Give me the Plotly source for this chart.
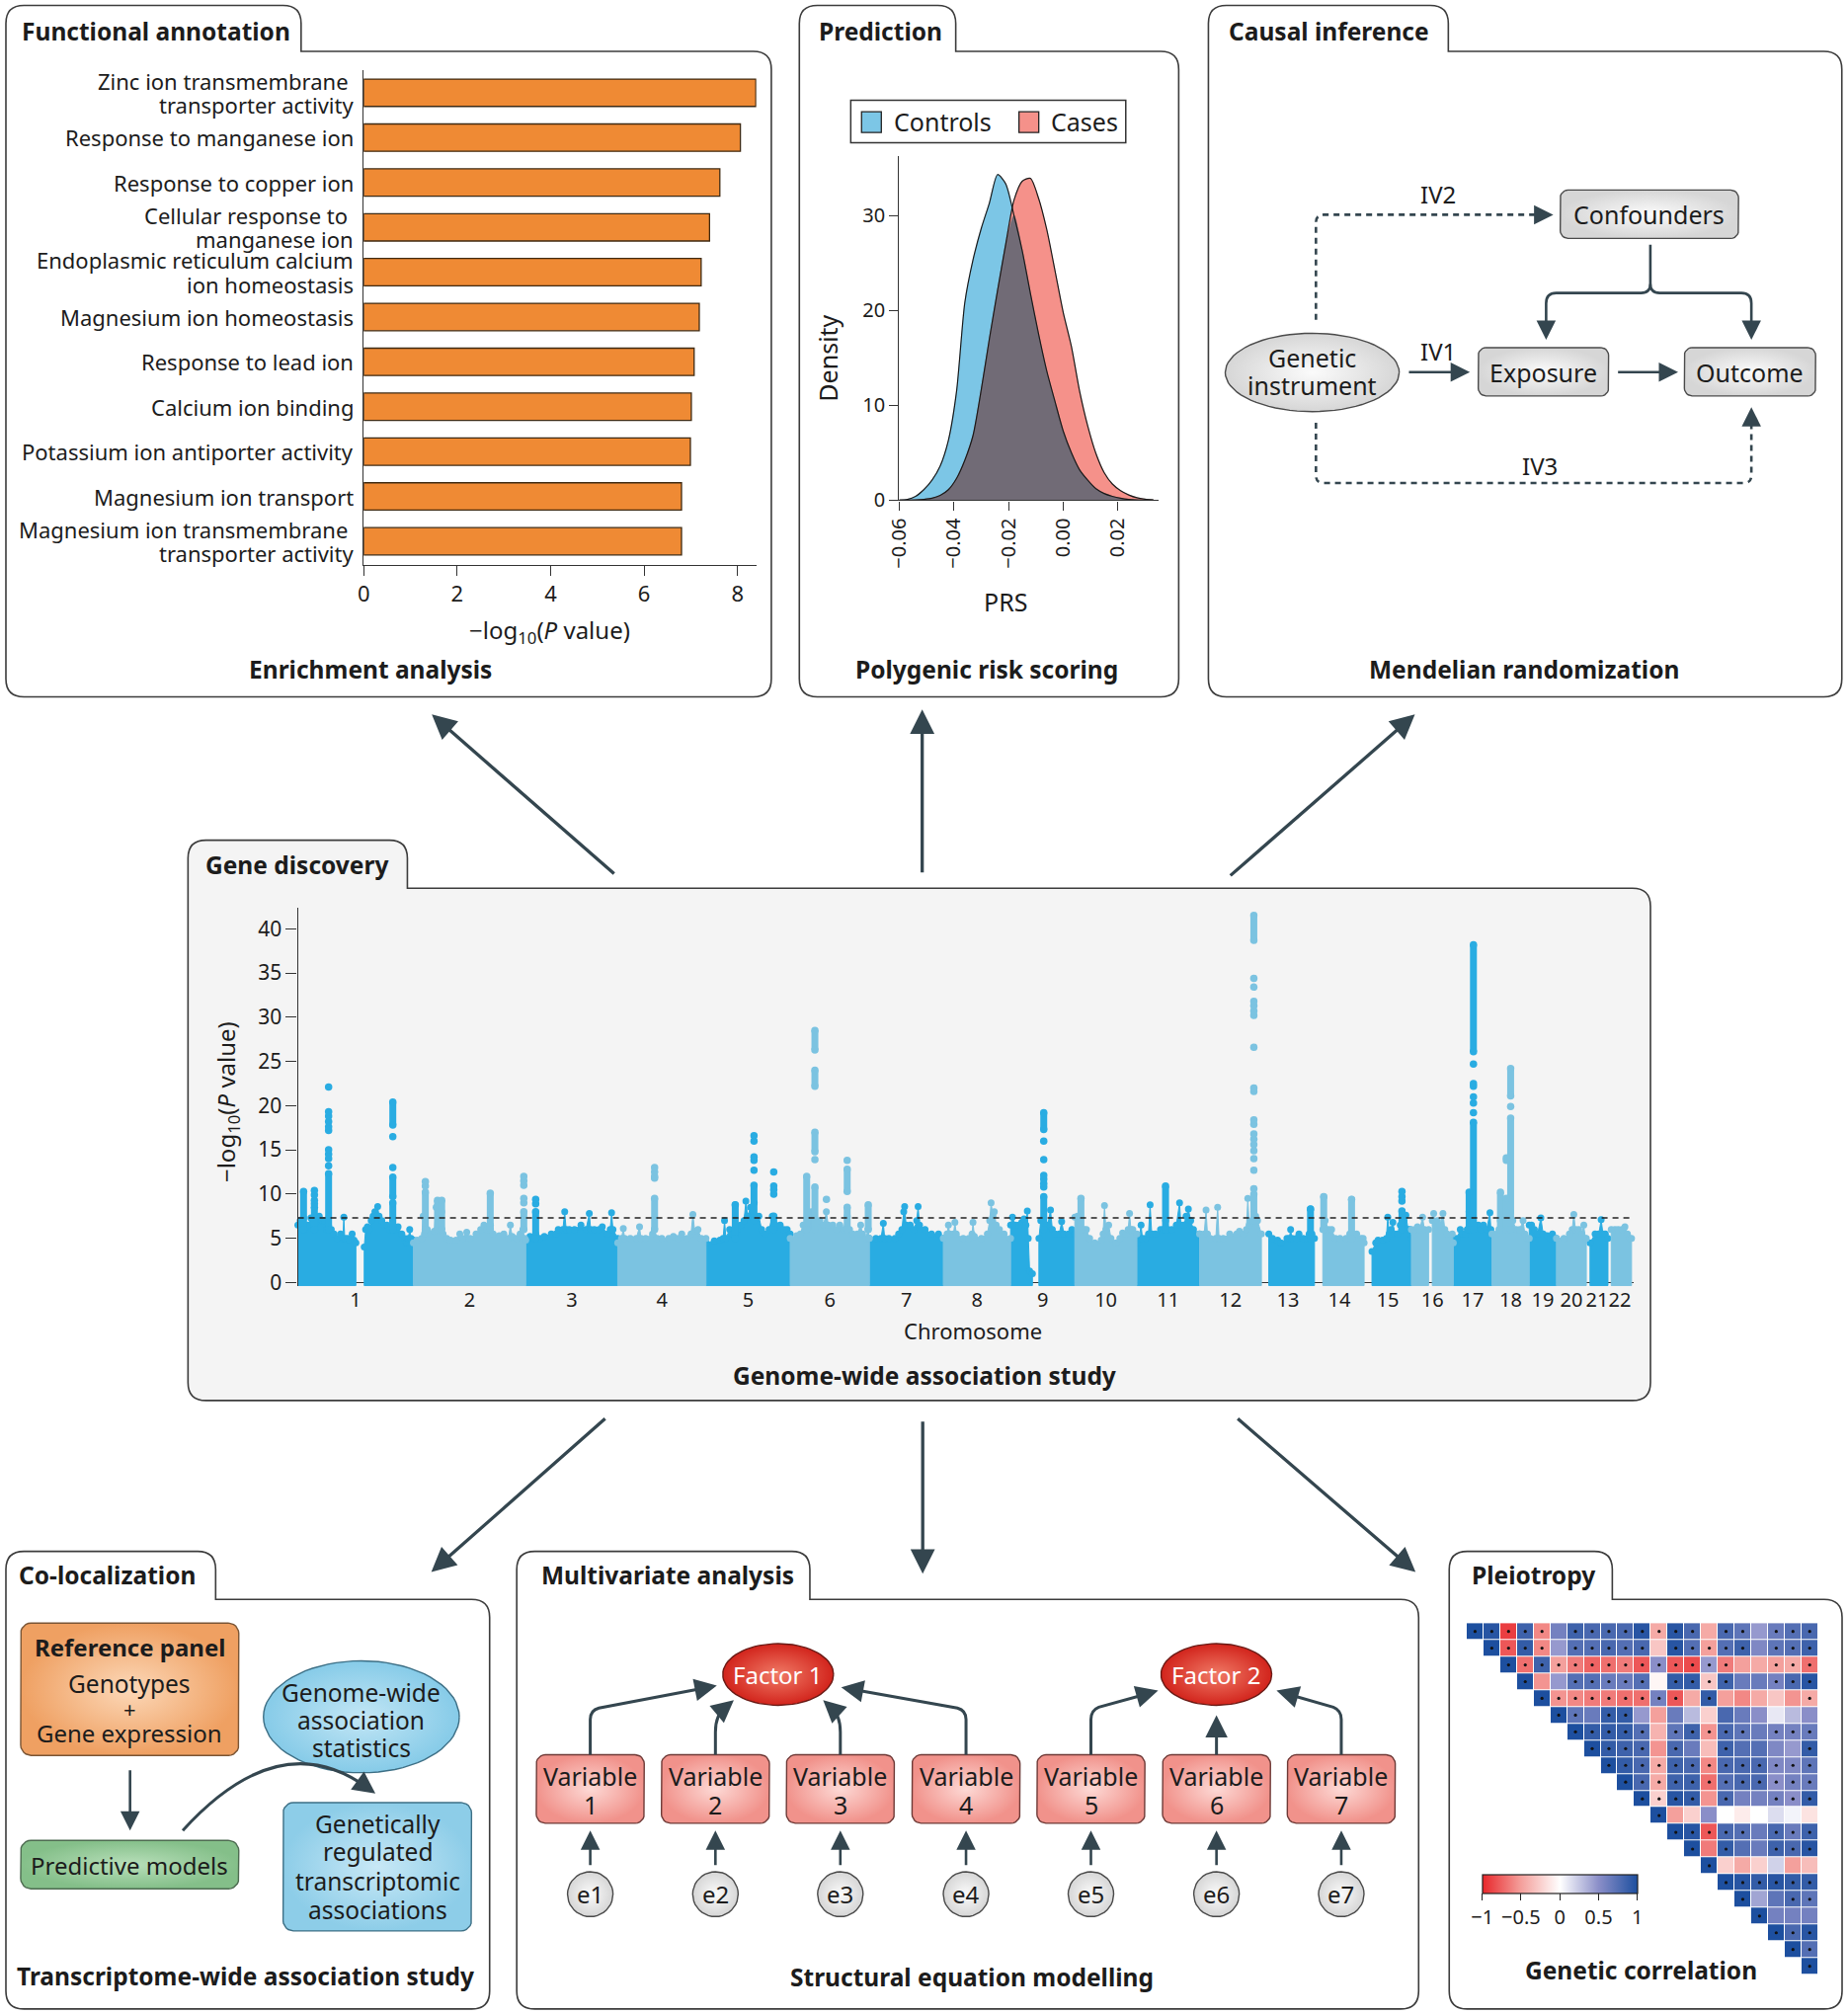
import numpy as np
import plotly.graph_objects as go

FONT = "Noto Sans, Open Sans, DejaVu Sans, Arial, sans-serif"
TXT = "#1c1c1c"
INK = "#34464f"

# ------------------------------------------------------------------ data
bar_labels = [
    "Zinc ion transmembrane\u00a0<br>transporter activity",
    "Response to manganese ion",
    "Response to copper ion",
    "Cellular response to\u00a0<br>manganese ion",
    "Endoplasmic reticulum calcium<br>ion homeostasis",
    "Magnesium ion homeostasis",
    "Response to lead ion",
    "Calcium ion binding",
    "Potassium ion antiporter activity",
    "Magnesium ion transport",
    "Magnesium ion transmembrane\u00a0<br>transporter activity",
]
bar_values = [8.39, 8.06, 7.62, 7.40, 7.22, 7.18, 7.07, 7.01, 6.99, 6.80, 6.80]
bar_ticks = [0, 2, 4, 6, 8]

prs_groups = ["Controls", "Cases"]
prs_x = [-0.060, -0.057, -0.054, -0.051, -0.048, -0.045, -0.042, -0.039, -0.036, -0.033,
         -0.030, -0.027, -0.024, -0.021, -0.018, -0.015, -0.012, -0.009, -0.006, -0.003,
         0.000, 0.003, 0.006, 0.009, 0.012, 0.015, 0.018, 0.021, 0.024, 0.027, 0.030, 0.033]
prs_controls = [0.0, 0.08, 0.4, 1.1, 2.1, 3.6, 6.3, 11.5, 20.8, 25.3,
                28.6, 31.3, 34.3, 33.3, 30.0, 26.3, 21.8, 17.5, 13.6, 10.4,
                7.3, 5.0, 3.2, 2.1, 1.2, 0.7, 0.4, 0.2, 0.08, 0.03, 0.0, 0.0]
prs_cases = [0.0, 0.0, 0.02, 0.08, 0.2, 0.5, 1.1, 2.3, 4.2, 6.8,
             11.6, 17.0, 22.1, 27.0, 31.6, 33.6, 33.9, 31.8, 28.5, 24.2,
             19.8, 16.2, 11.5, 7.8, 4.9, 2.9, 1.7, 1.0, 0.55, 0.25, 0.1, 0.02]
prs_ticks = [-0.06, -0.04, -0.02, 0.0, 0.02]
prs_ticktext = ["\u22120.06", "\u22120.04", "\u22120.02", "0.00", "0.02"]
density_ticks = [0, 10, 20, 30]

chrom_names = [str(i) for i in range(1, 23)]
chrom_len = [249.0, 242.2, 198.3, 190.2, 181.5, 170.8, 159.3, 145.1, 138.4, 133.8, 135.1,
             133.3, 114.4, 107.0, 102.0, 90.3, 83.3, 80.4, 58.6, 64.4, 46.7, 50.8]
gw_threshold = 7.3
p_ticks = [0, 5, 10, 15, 20, 25, 30, 35, 40]

# background mass of SNPs: (chromosome, positions in Mb, top of the mass)
seg_chrom = [1, 1, 2, 3, 4, 5, 6, 7, 8, 9, 9, 10, 11, 12, 13, 14, 15, 16, 16, 17, 18, 19, 20, 21, 22]
seg_mb = [
    [0, 5, 8, 12, 16, 22, 28, 32, 36, 42, 46, 52, 57, 62, 66, 72, 78, 85, 92, 97, 99, 101, 107, 112, 117, 121, 125],
    [143, 146, 150, 154, 158, 162, 166, 170, 172, 175, 181, 186, 192, 198, 204, 210, 216, 224, 230, 234, 238, 241, 244, 249],
    [0, 8, 18, 21, 24, 30, 38, 45, 49, 53, 57, 61, 64, 72, 80, 92, 100, 106, 115, 122, 135, 145, 152, 158, 166,
     172, 185, 195, 205, 209, 213, 223, 230, 236, 240, 242.2],
    [0, 9, 18, 21.4, 30, 40, 55, 65, 70, 80, 84, 87, 94, 105, 119, 130, 137, 140, 148, 158, 165, 176, 182, 185, 188, 198.3],
    [0, 8, 12, 15, 27, 40, 47, 50, 60, 75, 79, 85, 95, 110, 120, 130, 138, 150, 158, 162, 166, 173, 180, 190.2],
    [0, 18, 30, 37, 40, 43, 51, 58, 63, 67, 75, 82, 86, 90, 96, 100, 104, 108, 114, 120, 128, 136, 143, 150, 160,
     168, 175, 181.5],
    [0, 14, 22, 28, 32, 40, 46, 50, 56, 64, 72, 78, 82, 92, 100, 107, 115, 123, 128, 135, 145, 152, 156, 163, 168, 170.8],
    [0, 14, 25, 30, 33, 42, 55, 63, 70, 74, 76, 79, 88, 96, 102, 105, 108, 120, 134, 149, 159.3],
    [0, 8, 11, 14, 22, 25, 28, 43, 55, 62, 64, 67, 82, 95, 100, 103, 107, 110, 114, 121, 131, 145.1],
    [0, 4, 10, 18, 24, 29, 33, 36, 38, 41, 47],
    [61, 65, 68, 75, 80, 86, 90, 96, 105, 110, 115, 125, 132, 138.4],
    [0, 6, 10, 20, 25, 32, 43, 57, 61, 64, 67, 73, 78, 89, 97, 103, 110, 115, 118, 121, 125, 133.8],
    [0, 5, 9, 12, 19, 25, 28.5, 32, 40, 51, 57, 62, 67, 75, 85, 92, 95, 101, 106, 111, 116, 122, 135.1],
    [0, 10, 14, 17, 23, 35, 39, 42, 51, 65, 80, 86, 95, 101, 104, 107, 112, 117, 121, 125, 133.3],
    [16, 24, 35, 42, 55, 60, 63, 66, 75, 81, 90, 99, 103, 106, 109, 114.4],
    [18, 20, 23, 30, 37, 45, 55, 68, 76, 80, 84, 91, 100, 105, 107],
    [17, 25, 30, 40, 48, 51, 54, 58, 62, 66, 72, 78, 82, 86, 90, 95, 99, 102],
    [0, 8, 13, 18, 24, 28, 37],
    [45, 48, 52, 56, 62, 68, 72, 77, 88, 90.3],
    [0, 8, 15, 20, 26, 30, 34, 38, 43, 48, 54, 60, 65, 72, 79, 81, 83.3],
    [0, 10, 15, 18, 21, 24, 28, 31, 35, 40, 45, 52, 60, 67, 71, 76, 80.4],
    [0, 5, 11, 18, 25, 30, 39, 45, 50, 58.6],
    [0, 16, 28, 34, 37.5, 41, 48, 55, 59, 62, 64.4],
    [8, 19, 27, 32, 36, 41, 46.7],
    [7, 15, 22, 30, 36.5, 42, 47, 50.8],
]
seg_h = [
    [6.5, 7.0, 6.5, 7.3, 6.0, 6.5, 7.3, 6.8, 7.5, 7.0, 7.5, 7.0, 7.0, 6.0, 6.5, 6.0, 5.5, 5.0, 5.5, 5.0, 7.4,
     5.0, 5.0, 4.8, 5.5, 4.8, 4.5],
    [4.0, 6.0, 6.3, 6.0, 7.0, 7.5, 8.0, 7.5, 8.6, 7.5, 7.0, 6.5, 6.5, 6.0, 7.0, 6.0, 6.3, 5.5, 5.0, 4.5, 5.0,
     6.0, 5.0, 4.8],
    [4.5, 4.8, 5.0, 7.5, 5.5, 6.0, 5.5, 5.8, 8.5, 6.0, 6.2, 8.0, 5.5, 5.0, 4.8, 4.8, 5.5, 5.0, 5.7, 5.0, 5.5,
     6.0, 6.5, 6.0, 6.5, 5.5, 5.3, 5.5, 5.0, 6.5, 5.2, 5.0, 5.5, 6.0, 5.0, 4.8],
    [4.5, 5.2, 5.0, 5.5, 5.0, 5.2, 5.5, 5.5, 6.0, 6.0, 8.0, 6.0, 6.0, 6.0, 6.5, 6.0, 7.8, 6.0, 6.0, 6.0, 6.3,
     5.5, 6.0, 7.9, 6.0, 5.0],
    [4.5, 5.0, 6.1, 5.0, 5.0, 5.0, 6.3, 5.0, 5.0, 5.5, 6.0, 5.0, 5.0, 5.0, 5.2, 5.0, 5.5, 5.0, 5.5, 7.7, 5.8,
     6.0, 5.0, 5.0],
    [4.5, 4.7, 4.8, 5.0, 7.0, 5.0, 6.0, 5.5, 8.8, 6.0, 6.5, 7.0, 9.2, 7.5, 8.5, 7.5, 9.0, 7.5, 7.5, 6.0, 5.5,
     6.0, 7.5, 6.5, 6.5, 6.0, 6.0, 5.5],
    [5.0, 5.3, 5.5, 6.5, 6.0, 7.0, 8.0, 7.0, 7.0, 7.0, 6.5, 8.0, 6.5, 6.5, 6.0, 6.5, 6.0, 7.5, 6.0, 5.5, 5.5,
     6.5, 5.5, 5.0, 6.0, 5.0],
    [5.0, 5.0, 5.0, 6.7, 5.0, 5.0, 5.0, 5.5, 6.0, 8.0, 8.6, 6.5, 6.5, 6.0, 7.0, 8.6, 6.5, 6.0, 5.5, 5.5, 5.0],
    [5.0, 5.5, 6.5, 5.5, 5.5, 6.8, 5.5, 5.0, 5.0, 5.5, 6.8, 5.2, 5.0, 5.5, 7.0, 9.0, 7.5, 8.0, 6.5, 6.0, 5.5, 5.0],
    [6.5, 7.4, 6.5, 6.5, 6.8, 7.2, 6.5, 8.1, 5.0, 1.3, 1.0],
    [5.0, 7.0, 7.0, 6.5, 6.5, 8.2, 6.0, 5.5, 5.5, 6.9, 5.5, 5.5, 6.0, 5.5],
    [7.4, 7.5, 6.5, 6.0, 6.0, 5.0, 4.5, 4.8, 5.5, 8.7, 6.0, 6.5, 5.0, 4.5, 5.0, 5.6, 5.5, 6.0, 7.8, 6.0, 6.0, 5.5],
    [4.5, 5.0, 6.5, 5.0, 5.0, 5.5, 8.8, 5.5, 5.5, 6.0, 6.0, 7.0, 6.0, 6.0, 6.5, 9.0, 6.5, 6.5, 7.5, 8.3, 7.0,
     6.0, 5.5],
    [5.5, 5.5, 8.2, 5.5, 5.0, 5.0, 8.5, 5.0, 5.0, 5.5, 5.5, 5.8, 5.5, 6.0, 9.5, 6.5, 7.0, 8.0, 7.5, 7.0, 5.5],
    [5.5, 5.0, 4.8, 4.5, 5.0, 5.0, 6.0, 5.0, 5.0, 5.5, 5.0, 5.0, 5.5, 8.3, 5.5, 5.0],
    [6.0, 9.7, 7.0, 6.0, 6.0, 5.0, 5.0, 5.0, 5.5, 9.4, 5.5, 5.5, 5.0, 5.0, 4.5],
    [3.5, 4.5, 4.8, 4.8, 5.0, 7.4, 5.5, 6.0, 6.8, 5.5, 5.5, 6.5, 8.0, 7.0, 7.6, 6.0, 6.0, 5.0],
    [6.0, 6.0, 6.3, 6.0, 7.4, 6.0, 6.0],
    [7.0, 7.8, 6.5, 7.0, 6.5, 7.8, 6.0, 5.5, 5.5, 4.5],
    [5.0, 5.0, 6.0, 5.5, 5.5, 6.0, 8.0, 7.0, 7.0, 6.5, 6.5, 6.0, 6.5, 6.0, 7.9, 6.0, 5.5],
    [5.5, 5.5, 6.0, 7.0, 7.0, 7.0, 7.5, 8.0, 8.0, 8.0, 7.0, 6.0, 6.0, 7.0, 5.5, 5.0, 5.0],
    [6.5, 6.5, 6.0, 5.5, 7.3, 5.5, 5.3, 5.0, 5.5, 5.0],
    [5.0, 5.0, 5.5, 6.0, 7.7, 6.0, 6.0, 5.5, 6.5, 5.0, 5.0],
    [4.5, 5.5, 5.5, 7.1, 5.5, 5.5, 5.0],
    [6.0, 6.0, 6.0, 6.0, 6.3, 5.5, 5.0, 5.0],
]

# associated loci: chromosome, Mb, dense runs of SNPs [low, high], single SNPs
peak_chrom = [1, 1, 1, 1, 2, 2, 2, 2, 2, 3, 4, 5, 5, 5, 6, 6, 6, 6, 6, 9, 10, 11, 12, 13, 14, 14,
              15, 17, 17, 18, 18, 18]
peak_mb = [12.2, 35.6, 66.2, 204.6, 25.8, 52, 61, 165.7, 238, 21.4, 79.4, 63.1, 103.5, 146.1,
           35.6, 53.3, 78.2, 122.9, 168.3, 71.4, 13.2, 61.8, 117, 105.8, 20, 80, 81.6, 34.1,
           43.4, 18.3, 31, 40.3]
peak_dense = [
    [[6, 10.3]], [[6, 8.5]], [[6, 12.3]], [[6, 9.0], [9.7, 11.9], [17.8, 20.4]],
    [[6, 10.2]], [[6, 9.3]], [[6, 9.3]], [[6, 10.1]], [[6, 8.0]], [[5, 8.0]],
    [[6, 9.5]], [[5, 8.8]], [[7, 11.0]], [[6, 7.5]], [[6, 12.0]],
    [[6, 10.8], [14.8, 17.0], [22.2, 24.0], [26.3, 28.5]], [], [[6, 8.5], [10.3, 12.8]],
    [[6, 8.8]], [[6, 9.7], [17.3, 19.2]], [[6, 9.5]], [[6, 10.9]], [[7, 10.0], [38.7, 41.5]],
    [[5, 8.3]], [[6, 9.7]], [[5, 9.4]], [[6, 8.1]], [[6, 10.2]], [[6, 18.1], [26.1, 38.2]],
    [[6, 10.2]], [[6, 9.5]], [[6, 18.6], [21.1, 24.2]],
]
peak_dots = [
    [], [8.9, 9.3, 9.9, 10.4], [13.2, 14.0, 14.5, 15.0, 17.2, 17.6, 18.2, 18.8, 19.3, 22.1],
    [13.0, 16.5], [10.9, 11.4], [], [], [], [9.0, 9.5, 11.0, 11.5, 12.0], [8.9, 9.4],
    [11.8, 12.0, 12.5, 13.0], [], [12.7, 13.8, 14.2, 16.0, 16.6], [10.0, 10.5, 10.9, 12.5], [],
    [13.9], [9.4], [13.8], [], [10.8, 11.2, 11.7, 12.1, 13.9, 16.0], [], [],
    [10.6, 12.7, 14.0, 14.9, 15.6, 16.2, 16.8, 17.9, 18.4, 21.6, 22.0, 26.6, 30.2, 30.7, 31.3,
     31.8, 33.4, 34.4],
    [], [], [], [9.2, 9.7, 10.3], [], [19.2, 20.3, 21.0, 22.2, 22.5, 24.7], [], [13.8, 14.1], [19.9],
]

# genetic correlation (upper triangle, row i starts on the diagonal)
corr_rows = [
    [1.0, 0.95, -0.9, 0.85, -0.6, 0.6, 0.85, 0.8, 0.8, 0.8, 0.95, -0.45, 0.95, 0.8, -0.45, 0.8, 0.7, 0.45, 0.65, 0.75, 0.8],
    [1.0, -0.8, 0.9, -0.6, 0.45, 0.75, 0.75, 0.8, 0.75, 0.8, -0.3, 0.95, 0.75, -0.5, 0.75, 0.85, 0.55, 0.7, 0.75, 0.85],
    [1.0, -0.7, 0.85, -0.5, -0.65, -0.75, -0.7, -0.65, -0.8, 0.5, -0.8, -0.85, 0.45, -0.65, -0.5, -0.45, -0.5, -0.45, -0.7],
    [1.0, -0.55, 0.45, 0.75, 0.75, 0.65, 0.65, 0.75, -0.05, 0.9, 0.9, -0.3, 0.85, 0.65, 0.65, 0.6, 0.8, 0.95],
    [1.0, -0.55, -0.6, -0.65, -0.65, -0.7, -0.7, 0.6, -0.8, -0.45, 0.9, -0.5, -0.6, -0.45, -0.3, -0.55, -0.45],
    [1.0, 0.7, 0.65, 0.9, 0.9, 0.45, -0.5, 0.65, 0.3, -0.25, 0.8, 0.65, 0.5, 0.1, 0.3, 0.5],
    [1.0, 0.9, 0.9, 0.9, 0.75, -0.4, 0.7, 0.85, -0.55, 0.8, 0.7, 0.65, 0.6, 0.6, 0.65],
    [1.0, 0.9, 0.85, 0.8, -0.55, 0.8, 0.65, -0.35, 0.85, 0.75, 0.75, 0.55, 0.45, 0.9],
    [1.0, 0.9, 0.8, -0.45, 0.85, 0.8, -0.6, 0.8, 0.8, 0.8, 0.55, 0.55, 0.7],
    [1.0, 0.8, -0.45, 0.85, 0.85, -0.7, 0.75, 0.8, 0.8, 0.5, 0.6, 0.65],
    [1.0, -0.25, 0.95, 0.9, -0.55, 0.8, 0.6, 0.6, 0.6, 0.5, 0.9],
    [1.0, -0.5, -0.25, 0.5, 0.0, -0.1, 0.0, 0.15, 0.05, -0.15],
    [1.0, 0.95, -0.8, 0.8, 0.75, 0.65, 0.8, 0.65, 0.85],
    [1.0, -0.65, 0.9, 0.75, 0.65, 0.85, 0.8, 0.95],
    [1.0, -0.25, -0.45, -0.25, 0.2, -0.5, -0.35],
    [1.0, 0.95, 0.9, 0.95, 0.9, 0.9],
    [1.0, 0.4, 0.7, 0.8, 0.7],
    [1.0, 0.6, 0.6, 0.6],
    [1.0, 0.8, 0.95],
    [1.0, 0.75],
    [1.0],
]
sig_rows = [
    [1, 1, 1, 1, 1, 0, 1, 1, 1, 1, 1, 1, 1, 1, 0, 1, 1, 0, 1, 1, 1],
    [1, 1, 1, 1, 0, 1, 1, 1, 1, 1, 0, 1, 1, 1, 1, 1, 0, 1, 1, 1],
    [1, 1, 1, 1, 1, 1, 1, 1, 1, 1, 1, 1, 1, 1, 0, 0, 1, 1, 1],
    [1, 0, 0, 1, 1, 1, 1, 1, 0, 1, 1, 1, 1, 0, 0, 1, 1, 1],
    [1, 1, 1, 1, 1, 1, 1, 1, 1, 0, 1, 0, 0, 0, 0, 0, 1],
    [1, 1, 0, 1, 1, 0, 0, 0, 0, 0, 0, 0, 0, 0, 0, 0],
    [1, 1, 1, 1, 1, 0, 1, 1, 1, 1, 1, 0, 1, 1, 1],
    [1, 1, 1, 1, 0, 1, 0, 0, 1, 0, 0, 0, 0, 1],
    [1, 1, 1, 1, 1, 1, 1, 1, 1, 1, 1, 1, 1],
    [1, 1, 1, 1, 1, 1, 1, 1, 1, 1, 1, 1],
    [1, 1, 1, 1, 0, 1, 0, 0, 1, 1, 1],
    [1, 0, 0, 0, 0, 0, 0, 0, 0, 0],
    [1, 1, 1, 1, 1, 0, 1, 1, 1],
    [1, 0, 1, 0, 0, 1, 1, 1],
    [1, 0, 0, 0, 0, 0, 0],
    [1, 1, 1, 1, 1, 1],
    [1, 0, 0, 1, 1],
    [1, 0, 0, 0],
    [1, 1, 1],
    [1, 1],
    [1],
]
cbar_ticks = [-1, -0.5, 0, 0.5, 1]
cbar_text = ["\u22121", "\u22120.5", "0", "0.5", "1"]

# ------------------------------------------------------------------ geometry helpers
W, H = 1871, 2040
SW, SH = 1438.0, 1568.0          # canvas units
SC = W / SW


def px(v):
    return v / SW


def py(v):
    return 1 - v / SH


traces, shapes, annots = [], [], []


def txt(x, y, s, size=25, bold=False, color=TXT, xanchor="center", yanchor="middle", angle=0):
    annots.append(dict(x=x, y=y, xref="x", yref="y", text=(f"<b>{s}</b>" if bold else s),
                       showarrow=False, xanchor=xanchor, yanchor=yanchor, textangle=angle,
                       font=dict(family=FONT, size=size, color=color)))


def arrow(x0, y0, x1, y1, w=2.6, size=1.5, color=INK):
    annots.append(dict(x=x1, y=y1, ax=x0, ay=y0, xref="x", yref="y", axref="x", ayref="y",
                       text="", showarrow=True, arrowhead=2, arrowsize=size, arrowwidth=w,
                       arrowcolor=color, standoff=0, startstandoff=0))


def line_path(d, w=2.6, color=INK, dash="solid"):
    shapes.append(dict(type="path", path=d, xref="x", yref="y",
                       line=dict(color=color, width=w, dash=dash), layer="above"))


def panel(L, R, T, M, B, tr, fill="white", r=14):
    d = (f"M {L},{T + r} Q {L},{T} {L + r},{T} L {tr - r},{T} Q {tr},{T} {tr},{T + r} L {tr},{M} "
         f"L {R - r},{M} Q {R},{M} {R},{M + r} L {R},{B - r} Q {R},{B} {R - r},{B} "
         f"L {L + r},{B} Q {L},{B} {L},{B - r} Z")
    shapes.append(dict(type="path", path=d, xref="x", yref="y",
                       line=dict(color="#3c3c3c", width=1.6), fillcolor=fill, layer="below"))


def rrect(x0, y0, x1, y1, r=7, n=7):
    xs, ys = [], []
    for cx, cy, a0, a1 in [(x1 - r, y0 + r, -90, 0), (x1 - r, y1 - r, 0, 90),
                           (x0 + r, y1 - r, 90, 180), (x0 + r, y0 + r, 180, 270)]:
        t = np.radians(np.linspace(a0, a1, n))
        xs += list(cx + r * np.cos(t))
        ys += list(cy + r * np.sin(t))
    xs.append(xs[0])
    ys.append(ys[0])
    return xs, ys


def ell(cx, cy, rx, ry, n=73):
    t = np.linspace(0, 2 * np.pi, n)
    return list(cx + rx * np.cos(t)), list(cy + ry * np.sin(t))


def blob(pts, c0, c1, edge, w=1.4):
    xs, ys = pts
    traces.append(go.Scatter(x=xs, y=ys, xaxis="x", yaxis="y", mode="lines", fill="toself",
                             fillgradient=dict(type="radial", colorscale=[[0, c0], [1, c1]]),
                             line=dict(color=edge, width=w), hoverinfo="skip", showlegend=False))


# ------------------------------------------------------------------ panels
panel(4.6, 600.2, 4.2, 40, 542.3, 234.3)
panel(622, 917.2, 4.2, 40, 542.3, 743.7)
panel(940.3, 1433.2, 4.2, 40, 542.3, 1127)
panel(146.3, 1284.3, 653.8, 691.2, 1089.8, 317, fill="#f4f4f4")
panel(4.6, 381, 1207.2, 1244.6, 1563.3, 167.8)
panel(402.1, 1103.9, 1207.2, 1244.6, 1563.3, 630.2)
panel(1127.7, 1433.4, 1207.2, 1244.6, 1563.3, 1254.6)

BT = 24.5
txt(15.5, 24.4, "Functional annotation", size=BT, bold=True, xanchor="left")
txt(635.4, 24.4, "Prediction", size=BT, bold=True, xanchor="left")
txt(954.3, 24.4, "Causal inference", size=BT, bold=True, xanchor="left")
txt(158.2, 672.7, "Gene discovery", size=BT, bold=True, xanchor="left")
txt(13.3, 1225.9, "Co-localization", size=BT, bold=True, xanchor="left")
txt(419.6, 1225.9, "Multivariate analysis", size=BT, bold=True, xanchor="left")
txt(1143.9, 1225.9, "Pleiotropy", size=BT, bold=True, xanchor="left")

txt(288.5, 520.4, "Enrichment analysis", size=BT, bold=True)
txt(767.8, 520.4, "Polygenic risk scoring", size=BT, bold=True)
txt(1186, 520.4, "Mendelian randomization", size=BT, bold=True)
txt(719.7, 1070.6, "Genome-wide association study", size=BT, bold=True)
txt(190.9, 1537.6, "Transcriptome-wide association study", size=BT, bold=True)
txt(756, 1538.4, "Structural equation modelling", size=BT, bold=True)
txt(1277.1, 1533.3, "Genetic correlation", size=BT, bold=True)

# arrows between panels
for a in [(479, 680.9, 336, 556), (717.6, 680, 717.6, 552), (956.3, 682.3, 1101, 556),
          (472, 1103, 335.6, 1223.3), (718, 1105, 718, 1224.6), (962, 1103, 1101.5, 1223.3)]:
    arrow(*a, w=3.3, size=1.5)

# ------------------------------------------------------------------ causal inference
GRAY0, GRAY1, GEDGE = "#fbfbfb", "#d6d6d6", "#4a4a4a"
blob(rrect(1214.1, 147.9, 1352.8, 185.5, r=6), GRAY0, GRAY1, GEDGE)
blob(rrect(1150.3, 270.5, 1251.7, 308.1, r=6), GRAY0, GRAY1, GEDGE)
blob(rrect(1310.7, 270.5, 1412.8, 308.1, r=6), GRAY0, GRAY1, GEDGE)
blob(ell(1021.1, 289.8, 67.7, 30.5), GRAY0, GRAY1, GEDGE)
txt(1283.5, 167, "Confounders")
txt(1201, 289.5, "Exposure")
txt(1361.7, 289.5, "Outcome")
txt(1021, 278.5, "Genetic")
txt(1021, 300, "instrument")
txt(1118.7, 273.5, "IV1", size=24)
txt(1118.7, 151.4, "IV2", size=24)
txt(1198.2, 362.7, "IV3", size=24)
arrow(1095.2, 289.6, 1143.8, 289.6)
arrow(1257.9, 289.6, 1305.8, 289.6)
line_path("M 1284.2,190.4 L 1284.2,221 Q 1284.2,228 1277,228 L 1211,228 Q 1203.1,228 1203.1,236 L 1203.1,252")
line_path("M 1284.2,221 Q 1284.2,228 1291.4,228 L 1355,228 Q 1362.8,228 1362.8,236 L 1362.8,252")
arrow(1203.1, 250, 1203.1, 264.5)
arrow(1362.8, 250, 1362.8, 264.5)
line_path("M 1024,248.9 L 1024,173 Q 1024,167.1 1030,167.1 L 1198,167.1", dash="6px,5px")
arrow(1196, 167.1, 1208.7, 167.1)
line_path("M 1024,329 L 1024,370 Q 1024,375.9 1030,375.9 L 1357,375.9 Q 1362.8,375.9 1362.8,370 L 1362.8,330",
          dash="6px,5px")
arrow(1362.8, 330, 1362.8, 316.8)

# ------------------------------------------------------------------ co-localization
blob(rrect(16.1, 1263, 185.8, 1366, r=8), "#fcd8b8", "#efa062", "#7a5535")
blob(rrect(16.1, 1432.1, 185.8, 1469.8, r=8), "#b8dfba", "#84bf89", "#4d6b50")
blob(ell(281.2, 1336, 76.2, 43.6), "#c3e6f5", "#86cbe8", "#3d6f85")
blob(rrect(220.3, 1402.7, 366.9, 1502.6, r=8), "#c8e8f6", "#8dcde8", "#3d6f85")
txt(101, 1281.5, "Reference panel", size=24, bold=True)
txt(101, 1310.4, "Genotypes", size=24.5)
txt(101, 1329.8, "+", size=22)
txt(101, 1348.9, "Gene expression", size=24)
txt(101, 1451.3, "Predictive models", size=24)
for yy, s in zip([1316.8, 1338.6, 1360.4], ["Genome-wide", "association", "statistics"]):
    txt(281.2, yy, s, size=24.5)
for yy, s in zip([1419.3, 1441.1, 1464.1, 1485.9], ["Genetically", "regulated", "transcriptomic", "associations"]):
    txt(293.6, yy, s, size=24.5)
arrow(101.2, 1376.5, 101.2, 1424.4)
line_path("M 142.2,1424.4 Q 218,1341 286.5,1391.6", w=3)
arrow(284, 1389.8, 292.1, 1395.7, w=3)

# ------------------------------------------------------------------ multivariate analysis
var_x = [459.3, 556.7, 653.9, 751.7, 848.9, 946.6, 1043.7]
for i, cx in enumerate(var_x):
    blob(rrect(cx - 42, 1365.5, cx + 42, 1418.8, r=7), "#fdd9d5", "#f1928b", "#6e3a37")
    blob(ell(cx, 1474, 17.7, 17.5, n=41), GRAY0, GRAY1, GEDGE)
    txt(cx, 1382.2, "Variable", size=25)
    txt(cx, 1404, str(i + 1), size=25)
    txt(cx, 1474, f"e{i + 1}", size=24)
    arrow(cx, 1452.6, cx, 1424.5)
for fx_, name in [(605.5, "Factor 1"), (946.5, "Factor 2")]:
    blob(ell(fx_, 1303, 43.1, 24), "#f07a66", "#d2241c", "#6a1a15")
    txt(fx_, 1303, name, size=24, color="white")
line_path("M 459.3,1365.5 L 459.3,1338 Q 459.3,1331 466,1329.2 L 549,1313.4", w=3)
arrow(548, 1313.6, 557.8, 1311.7, w=3)
line_path("M 556.7,1365.5 L 556.7,1348 Q 556.7,1334 565,1328", w=3)
arrow(565, 1328, 571, 1323, w=3)
line_path("M 653.9,1365.5 L 653.9,1348 Q 653.9,1334 646,1328", w=3)
arrow(646, 1328, 640.5, 1323, w=3)
line_path("M 751.7,1365.5 L 751.7,1338 Q 751.7,1331 745,1329.2 L 663,1314.6", w=3)
arrow(664.4, 1314.8, 654.6, 1313, w=3)
line_path("M 848.9,1365.5 L 848.9,1338 Q 848.9,1331 855,1328.5 L 893,1318", w=3)
arrow(891.6, 1318.3, 901.2, 1315.6, w=3)
line_path("M 946.6,1365.5 L 946.6,1346", w=3)
arrow(946.6, 1346, 946.6, 1334.7, w=3)
line_path("M 1043.7,1365.5 L 1043.7,1338 Q 1043.7,1331 1037.5,1328.5 L 1001,1318", w=3)
arrow(1002.5, 1318.3, 993.3, 1315.6, w=3)

# ------------------------------------------------------------------ enrichment bars (x2, y2)
traces.append(go.Bar(x=bar_values, y=list(range(len(bar_values))), orientation="h",
                     xaxis="x2", yaxis="y2", width=0.61,
                     marker=dict(color="#ef8a34", line=dict(color="#3f2a12", width=1.3)),
                     hoverinfo="skip", showlegend=False))
# category labels: right aligned against the axis, tight two-line spacing
for i, lab in enumerate(bar_labels):
    parts = lab.split("<br>")
    shifts = [0.0] if len(parts) == 1 else [9.3 * SC, -9.3 * SC]
    for part, sh in zip(parts, shifts):
        annots.append(dict(xref="paper", x=px(276.5), yref="y2", y=i, text=part, showarrow=False,
                           xanchor="right", yanchor="middle", yshift=sh,
                           font=dict(family=FONT, size=22, color=TXT)))
txt(428, 490.8, "\u2212log<sub>10</sub>(<i>P</i> value)", size=24)

# ------------------------------------------------------------------ PRS densities (x3, y3)
overlap = list(np.minimum(prs_controls, prs_cases))
C_CTRL, C_CASE, C_OVER = "#7cc6e6", "#f5918a", "#716b76"
for yv, col in [(prs_controls, C_CTRL), (prs_cases, C_CASE), (overlap, C_OVER)]:
    traces.append(go.Scatter(x=prs_x, y=yv, xaxis="x3", yaxis="y3", mode="lines", fill="tozeroy",
                             fillcolor=col, line=dict(color=col, width=0.5, shape="spline", smoothing=0.7),
                             hoverinfo="skip", showlegend=False))
for yv in (prs_controls, prs_cases):
    traces.append(go.Scatter(x=prs_x, y=yv, xaxis="x3", yaxis="y3", mode="lines",
                             line=dict(color="#1a1a1a", width=1.2, shape="spline", smoothing=0.7),
                             hoverinfo="skip", showlegend=False))
# legend box (drawn on the canvas)
shapes.append(dict(type="rect", xref="x", yref="y", x0=662, y0=78, x1=876, y1=111,
                   line=dict(color="#333", width=1.5), fillcolor="white", layer="above"))
for (sx0, tx0), name, col in zip([(670.4, 694.3), (792.9, 816.5)], prs_groups, [C_CTRL, C_CASE]):
    shapes.append(dict(type="rect", xref="x", yref="y", x0=sx0, y0=87, x1=sx0 + 15.4, y1=103.1,
                       line=dict(color="#222", width=1.3), fillcolor=col, layer="above"))
    txt(tx0, 94.7, name, size=25, xanchor="left")
txt(644.3, 278.5, "Density", size=25, angle=-90)
txt(782.7, 468.2, "PRS", size=25)

# ------------------------------------------------------------------ Manhattan plot (x4, y4)
offsets = np.concatenate([[0.0], np.cumsum(chrom_len)[:-1]])
mids = list(offsets + np.array(chrom_len) / 2)
DARK, LIGHT = "#29ace2", "#7bc3e1"
poly = {DARK: ([], []), LIGHT: ([], [])}
tops = {DARK: ([], []), LIGHT: ([], [])}
for c, mbs, hs in zip(seg_chrom, seg_mb, seg_h):
    col = DARK if c % 2 else LIGHT
    xs = [offsets[c - 1] + m for m in mbs]
    poly[col][0].extend([xs[0]] + xs + [xs[-1], xs[0], None])
    poly[col][1].extend([-0.35] + list(hs) + [-0.35, -0.35, None])
    tops[col][0].extend(xs)
    tops[col][1].extend(hs)
runs = {DARK: ([], []), LIGHT: ([], [])}
dots = {DARK: ([], []), LIGHT: ([], [])}
for c, m, dense, pts in zip(peak_chrom, peak_mb, peak_dense, peak_dots):
    col = DARK if c % 2 else LIGHT
    X = offsets[c - 1] + m
    for lo, hi in dense:
        runs[col][0].extend([X, X, None])
        runs[col][1].extend([lo, hi, None])
        dots[col][0].extend([X, X])
        dots[col][1].extend([lo, hi])
    for v in pts:
        dots[col][0].append(X)
        dots[col][1].append(v)
for col in (DARK, LIGHT):
    traces.append(go.Scatter(x=poly[col][0], y=poly[col][1], xaxis="x4", yaxis="y4", mode="lines",
                             fill="toself", fillcolor=col, line=dict(color=col, width=1),
                             hoverinfo="skip", showlegend=False))
    traces.append(go.Scatter(x=tops[col][0], y=tops[col][1], xaxis="x4", yaxis="y4", mode="markers",
                             marker=dict(size=7, color=col), cliponaxis=False,
                             hoverinfo="skip", showlegend=False))
for col in (DARK, LIGHT):
    traces.append(go.Scatter(x=runs[col][0], y=runs[col][1], xaxis="x4", yaxis="y4", mode="lines",
                             line=dict(color=col, width=7), hoverinfo="skip", showlegend=False))
    traces.append(go.Scatter(x=dots[col][0], y=dots[col][1], xaxis="x4", yaxis="y4", mode="markers",
                             marker=dict(size=7.5, color=col), cliponaxis=False,
                             hoverinfo="skip", showlegend=False))
traces.append(go.Scatter(x=[0, sum(chrom_len)], y=[gw_threshold, gw_threshold], xaxis="x4", yaxis="y4",
                         mode="lines", line=dict(color="#222", width=1.4, dash="6px,5px"),
                         hoverinfo="skip", showlegend=False))
txt(177.2, 857.4, "\u2212log<sub>10</sub>(<i>P</i> value)", size=24, angle=-90)
txt(756.9, 1035.3, "Chromosome", size=22)

# ------------------------------------------------------------------ genetic correlation (x5, y5)
N = len(corr_rows)
Z = [[None] * N for _ in range(N)]
for i, row in enumerate(corr_rows):
    for k, v in enumerate(row):
        Z[i][i + k] = v
sx, sy = [], []
for i, row in enumerate(sig_rows):
    for k, s in enumerate(row):
        if s:
            sx.append(i + k)
            sy.append(i)
traces.append(go.Heatmap(
    z=Z, x=list(range(N)), y=list(range(N)), xaxis="x5", yaxis="y5", zmin=-1, zmax=1, xgap=1, ygap=1,
    colorscale=[[0.0, "#e8262a"], [0.25, "#f4a09c"], [0.5, "#ffffff"], [0.75, "#8a8ec8"], [1.0, "#1d4f9f"]],
    hoverinfo="skip",
    colorbar=dict(orientation="h", x=px(1153.4), xanchor="left", y=py(1458.5), yanchor="top",
                  len=120.4 * SC, lenmode="pixels", thickness=19, thicknessmode="pixels",
                  outlinewidth=1.2, outlinecolor="#222", tickvals=cbar_ticks, ticktext=cbar_text,
                  ticks="outside", ticklen=7, tickcolor="#222", xpad=0, ypad=0,
                  tickfont=dict(size=20, family=FONT, color=TXT))))
traces.append(go.Scatter(x=sx, y=sy, xaxis="x5", yaxis="y5", mode="markers",
                         marker=dict(size=3.2, color="#111"), hoverinfo="skip", showlegend=False))

# ------------------------------------------------------------------ layout
base = dict(showgrid=False, zeroline=False, fixedrange=True, automargin=False)
tf = dict(family=FONT, size=22, color=TXT)
layout = dict(
    width=W, height=H, margin=dict(l=0, r=0, t=0, b=0, pad=0, autoexpand=False),
    paper_bgcolor="white", plot_bgcolor="rgba(0,0,0,0)", showlegend=False,
    font=dict(family=FONT, color=TXT),
    xaxis=dict(domain=[0, 1], range=[0, SW], visible=False, **base),
    yaxis=dict(domain=[0, 1], range=[SH, 0], visible=False, **base),
    xaxis2=dict(domain=[px(283.0), px(588.5)], range=[0, 8.4], anchor="y2", tickvals=bar_ticks,
                ticks="outside", ticklen=10, tickwidth=1.3, tickcolor="#333", showline=True,
                linecolor="#333", linewidth=1.3, tickfont=tf, **base),
    yaxis2=dict(domain=[py(439.6), py(54.6)], range=[10.527, -0.504], anchor="x2",
                showticklabels=False, ticks="", showline=True, linecolor="#333", linewidth=1.3, **base),
    xaxis3=dict(domain=[px(699.7), px(901.3)], range=[-0.06, 0.0348], anchor="y3", tickvals=prs_ticks,
                ticktext=prs_ticktext, tickangle=-90, ticks="outside", ticklen=9, tickwidth=1.3,
                tickcolor="#333", showline=True, linecolor="#333", linewidth=1.3,
                tickfont=dict(family=FONT, size=20, color=TXT), **base),
    yaxis3=dict(domain=[py(389.2), py(121.8)], range=[0, 36.2], anchor="x3", tickvals=density_ticks,
                ticks="outside", ticklen=9, tickwidth=1.3, tickcolor="#333", showline=True,
                linecolor="#333", linewidth=1.3, tickfont=dict(family=FONT, size=20, color=TXT), **base),
    xaxis4=dict(domain=[px(231.8), px(1271.4)], range=[0, 2880], anchor="y4", tickvals=mids,
                ticktext=chrom_names, ticks="", tickangle=0, showline=False,
                tickfont=dict(family=FONT, size=20, color=TXT), **base),
    yaxis4=dict(domain=[py(1001.1), py(706.2)], range=[-0.45, 42.4], anchor="x4", tickvals=p_ticks,
                ticks="outside", ticklen=11, tickwidth=1.3, tickcolor="#333", showline=True,
                linecolor="#333", linewidth=1.3, tickfont=dict(family=FONT, size=21, color=TXT),
                showgrid=False, fixedrange=True, automargin=False,
                zeroline=True, zerolinecolor="#333", zerolinewidth=1.4),
    xaxis5=dict(domain=[px(1141.3), px(1414.7)], range=[-0.5, N - 0.5], anchor="y5", visible=False, **base),
    yaxis5=dict(domain=[py(1536.6), py(1263)], range=[N - 0.5, -0.5], anchor="x5", visible=False, **base),
    shapes=shapes, annotations=annots,
)

fig = go.Figure(data=traces, layout=layout)
fig.write_html("out.html", config=dict(displayModeBar=False),
               post_script="document.documentElement.style.margin='0';"
                           "document.body.style.margin='0';document.body.style.overflow='hidden';")
